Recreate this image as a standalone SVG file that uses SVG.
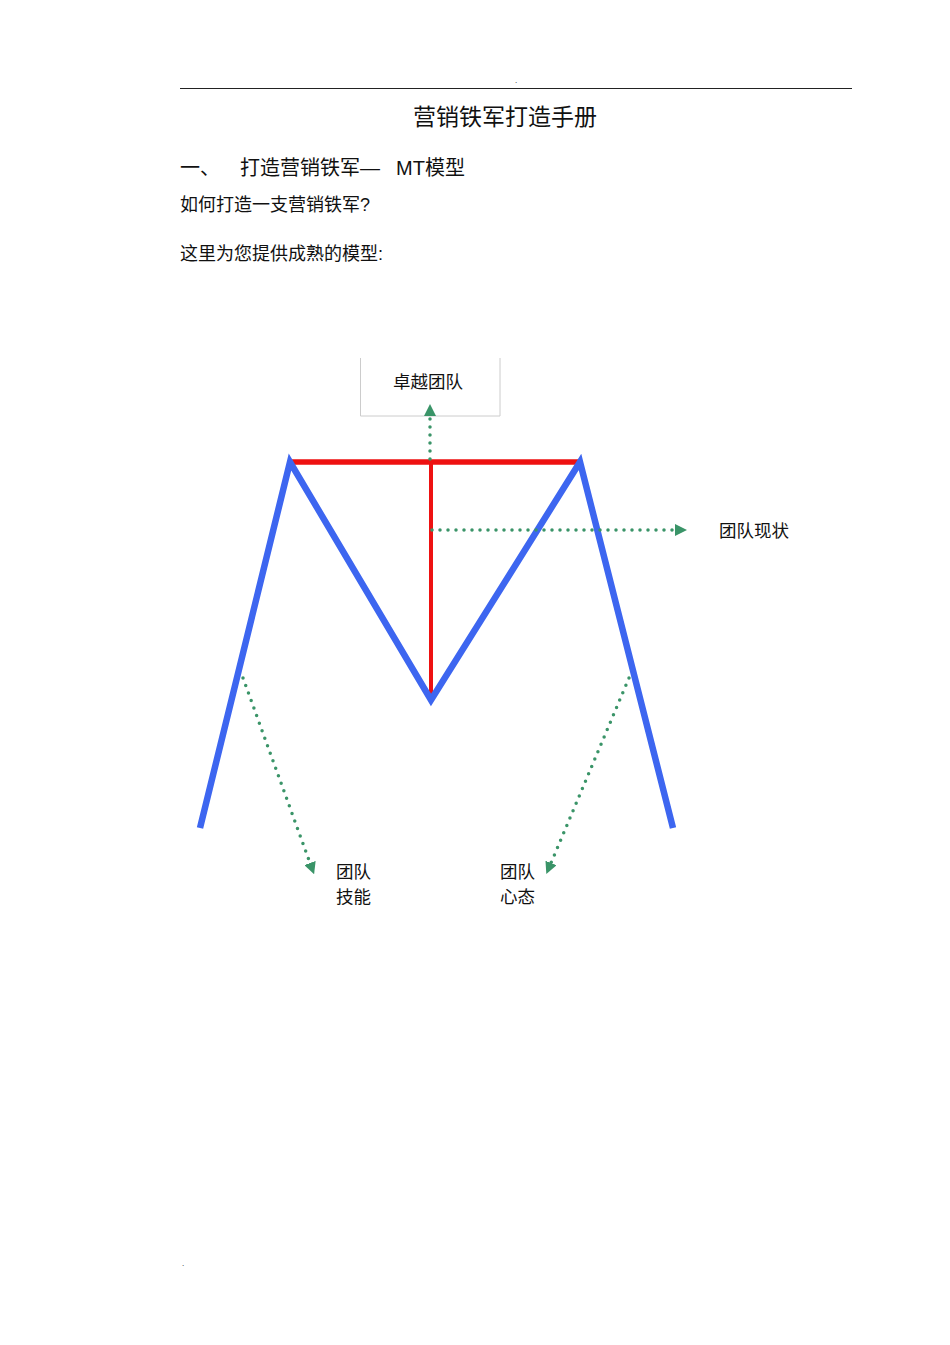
<svg xmlns="http://www.w3.org/2000/svg" width="950" height="1345" viewBox="0 0 950 1345">
<style>
text{font-family:"Liberation Sans","Noto Sans CJK SC",sans-serif;fill:#111}
.dot{stroke:#3a9468;stroke-width:3.5;stroke-linecap:round;stroke-dasharray:0 8;fill:none}
</style>
<defs>
<marker id="ah" viewBox="0 0 10 10" refX="0" refY="5" markerWidth="12" markerHeight="12" markerUnits="userSpaceOnUse" orient="auto">
<path d="M0,0 L10,5 L0,10 z" fill="#3a9468"/>
</marker>
</defs>
<rect width="950" height="1345" fill="#fff"/>
<g id="header">
<text x="516" y="83" font-size="8" text-anchor="middle">.</text>
<line x1="180" y1="88.5" x2="852" y2="88.5" stroke="#222" stroke-width="1.2"/>
<text x="182" y="1266" font-size="8">.</text>
</g>
<g id="texts">
<text x="505" y="125" font-size="23" text-anchor="middle">营销铁军打造手册</text>
<text x="180" y="175" font-size="20">一、</text>
<text x="240" y="175" font-size="20">打造营销铁军—</text>
<text x="396" y="175" font-size="20">MT模型</text>
<text x="180" y="211" font-size="18">如何打造一支营销铁军?</text>
<text x="180" y="260" font-size="18">这里为您提供成熟的模型:</text>
</g>
<g id="frame">
<polyline points="291,462 580,462" stroke="#ee1111" stroke-width="5.5" fill="none"/>
<line x1="431" y1="462" x2="431" y2="700" stroke="#ee1111" stroke-width="4"/>
<polyline points="200,828 290,462 431,700 580,462 673,828" stroke="#3d66f0" stroke-width="6.5" fill="none" stroke-linejoin="miter"/>
</g>
<g id="node-top">
<path d="M360.5,358 V416 H500 V358" fill="none" stroke="#cccccc" stroke-width="1"/>
<text x="428" y="388" font-size="17.5" text-anchor="middle">卓越团队</text>
</g>
<g id="node-right"><text x="719" y="537" font-size="17.5">团队现状</text></g>
<g id="node-left-bottom"><text x="336" y="878" font-size="17.5">团队</text><text x="336" y="903" font-size="17.5">技能</text></g>
<g id="node-right-bottom"><text x="500" y="878" font-size="17.5">团队</text><text x="500" y="903" font-size="17.5">心态</text></g>
<g id="connectors">
<line class="dot" x1="430" y1="459" x2="430" y2="416" marker-end="url(#ah)"/>
<line class="dot" x1="432" y1="530" x2="675" y2="530" marker-end="url(#ah)"/>
<line class="dot" x1="243" y1="678" x2="310" y2="863" marker-end="url(#ah)"/>
<line class="dot" x1="629" y1="678" x2="551" y2="863" marker-end="url(#ah)"/>
</g>
</svg>
